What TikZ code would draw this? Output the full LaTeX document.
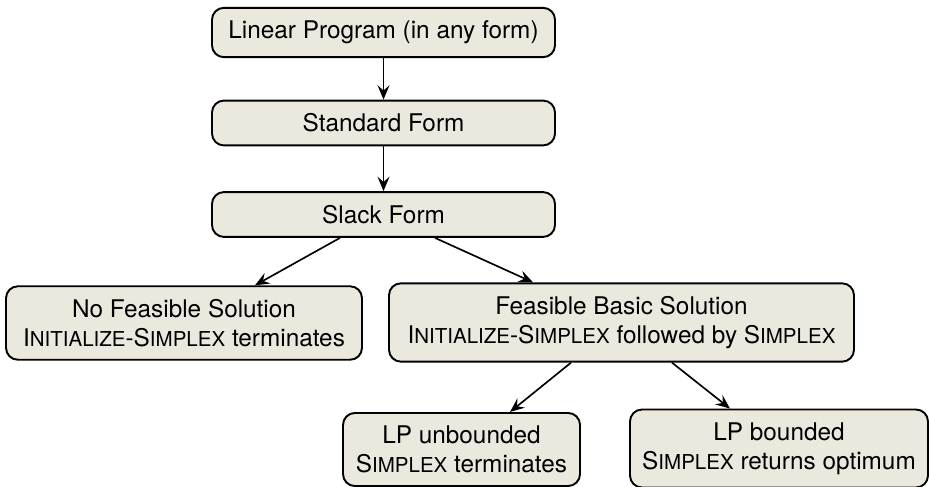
\documentclass[tikz,border=0pt]{standalone}
\usepackage{fontspec}
\setmainfont{TeX Gyre Heros}
\usetikzlibrary{arrows.meta}
\newcommand\smc[1]{{\fontsize{8.6pt}{9pt}\selectfont #1}}
\definecolor{boxfill}{HTML}{EBE8DE}
\begin{document}
\begin{tikzpicture}[x=0.419pt,y=-0.419pt,
  box/.style={draw=black, line width=0.8pt, fill=boxfill, rounded corners=5pt,
    inner xsep=4pt, inner ysep=5.5pt, align=center, font=\fontsize{10.2pt}{12pt}\selectfont},
  conn/.style={-{Stealth[length=6pt,width=5pt,inset=2.2pt]}, line width=0.7pt}]
\useasboundingbox (0,0) rectangle (929,487);
\node[box, minimum width=343*0.419pt] (b1) at (383.5,32.5) {Linear Program (in any form)};
\node[box, minimum width=343*0.419pt] (b2) at (383.5,123) {Standard Form};
\node[box, minimum width=343*0.419pt] (b3) at (383.5,214.5) {Slack Form};
\node[box, minimum width=356*0.419pt] (b4) at (184,323) {No Feasible Solution\\ I\smc{NITIALIZE}-S\smc{IMPLEX} terminates};
\node[box, minimum width=465*0.419pt] (b5) at (621.5,322.5) {Feasible Basic Solution\\ I\smc{NITIALIZE}-S\smc{IMPLEX} followed by S\smc{IMPLEX}};
\node[box, minimum width=237*0.419pt] (b6) at (461.5,449.5) {LP unbounded\\ S\smc{IMPLEX} terminates};
\node[box, minimum width=298*0.419pt] (b7) at (779,448.5) {LP bounded\\ S\smc{IMPLEX} returns optimum};
\draw[conn] (b1) -- (b2);
\draw[conn] (b2) -- (b3);
\draw[conn] ([xshift=-43.5*0.419pt]b3.south) -- ([xshift=71*0.419pt]b4.north);
\draw[conn] ([xshift=51.5*0.419pt]b3.south) -- ([xshift=-88.5*0.419pt]b5.north);
\draw[conn] ([xshift=-50.5*0.419pt]b5.south) -- ([xshift=48.5*0.419pt]b6.north);
\draw[conn] ([xshift=50.5*0.419pt]b5.south) -- ([xshift=-49*0.419pt]b7.north);
\end{tikzpicture}
\end{document}
